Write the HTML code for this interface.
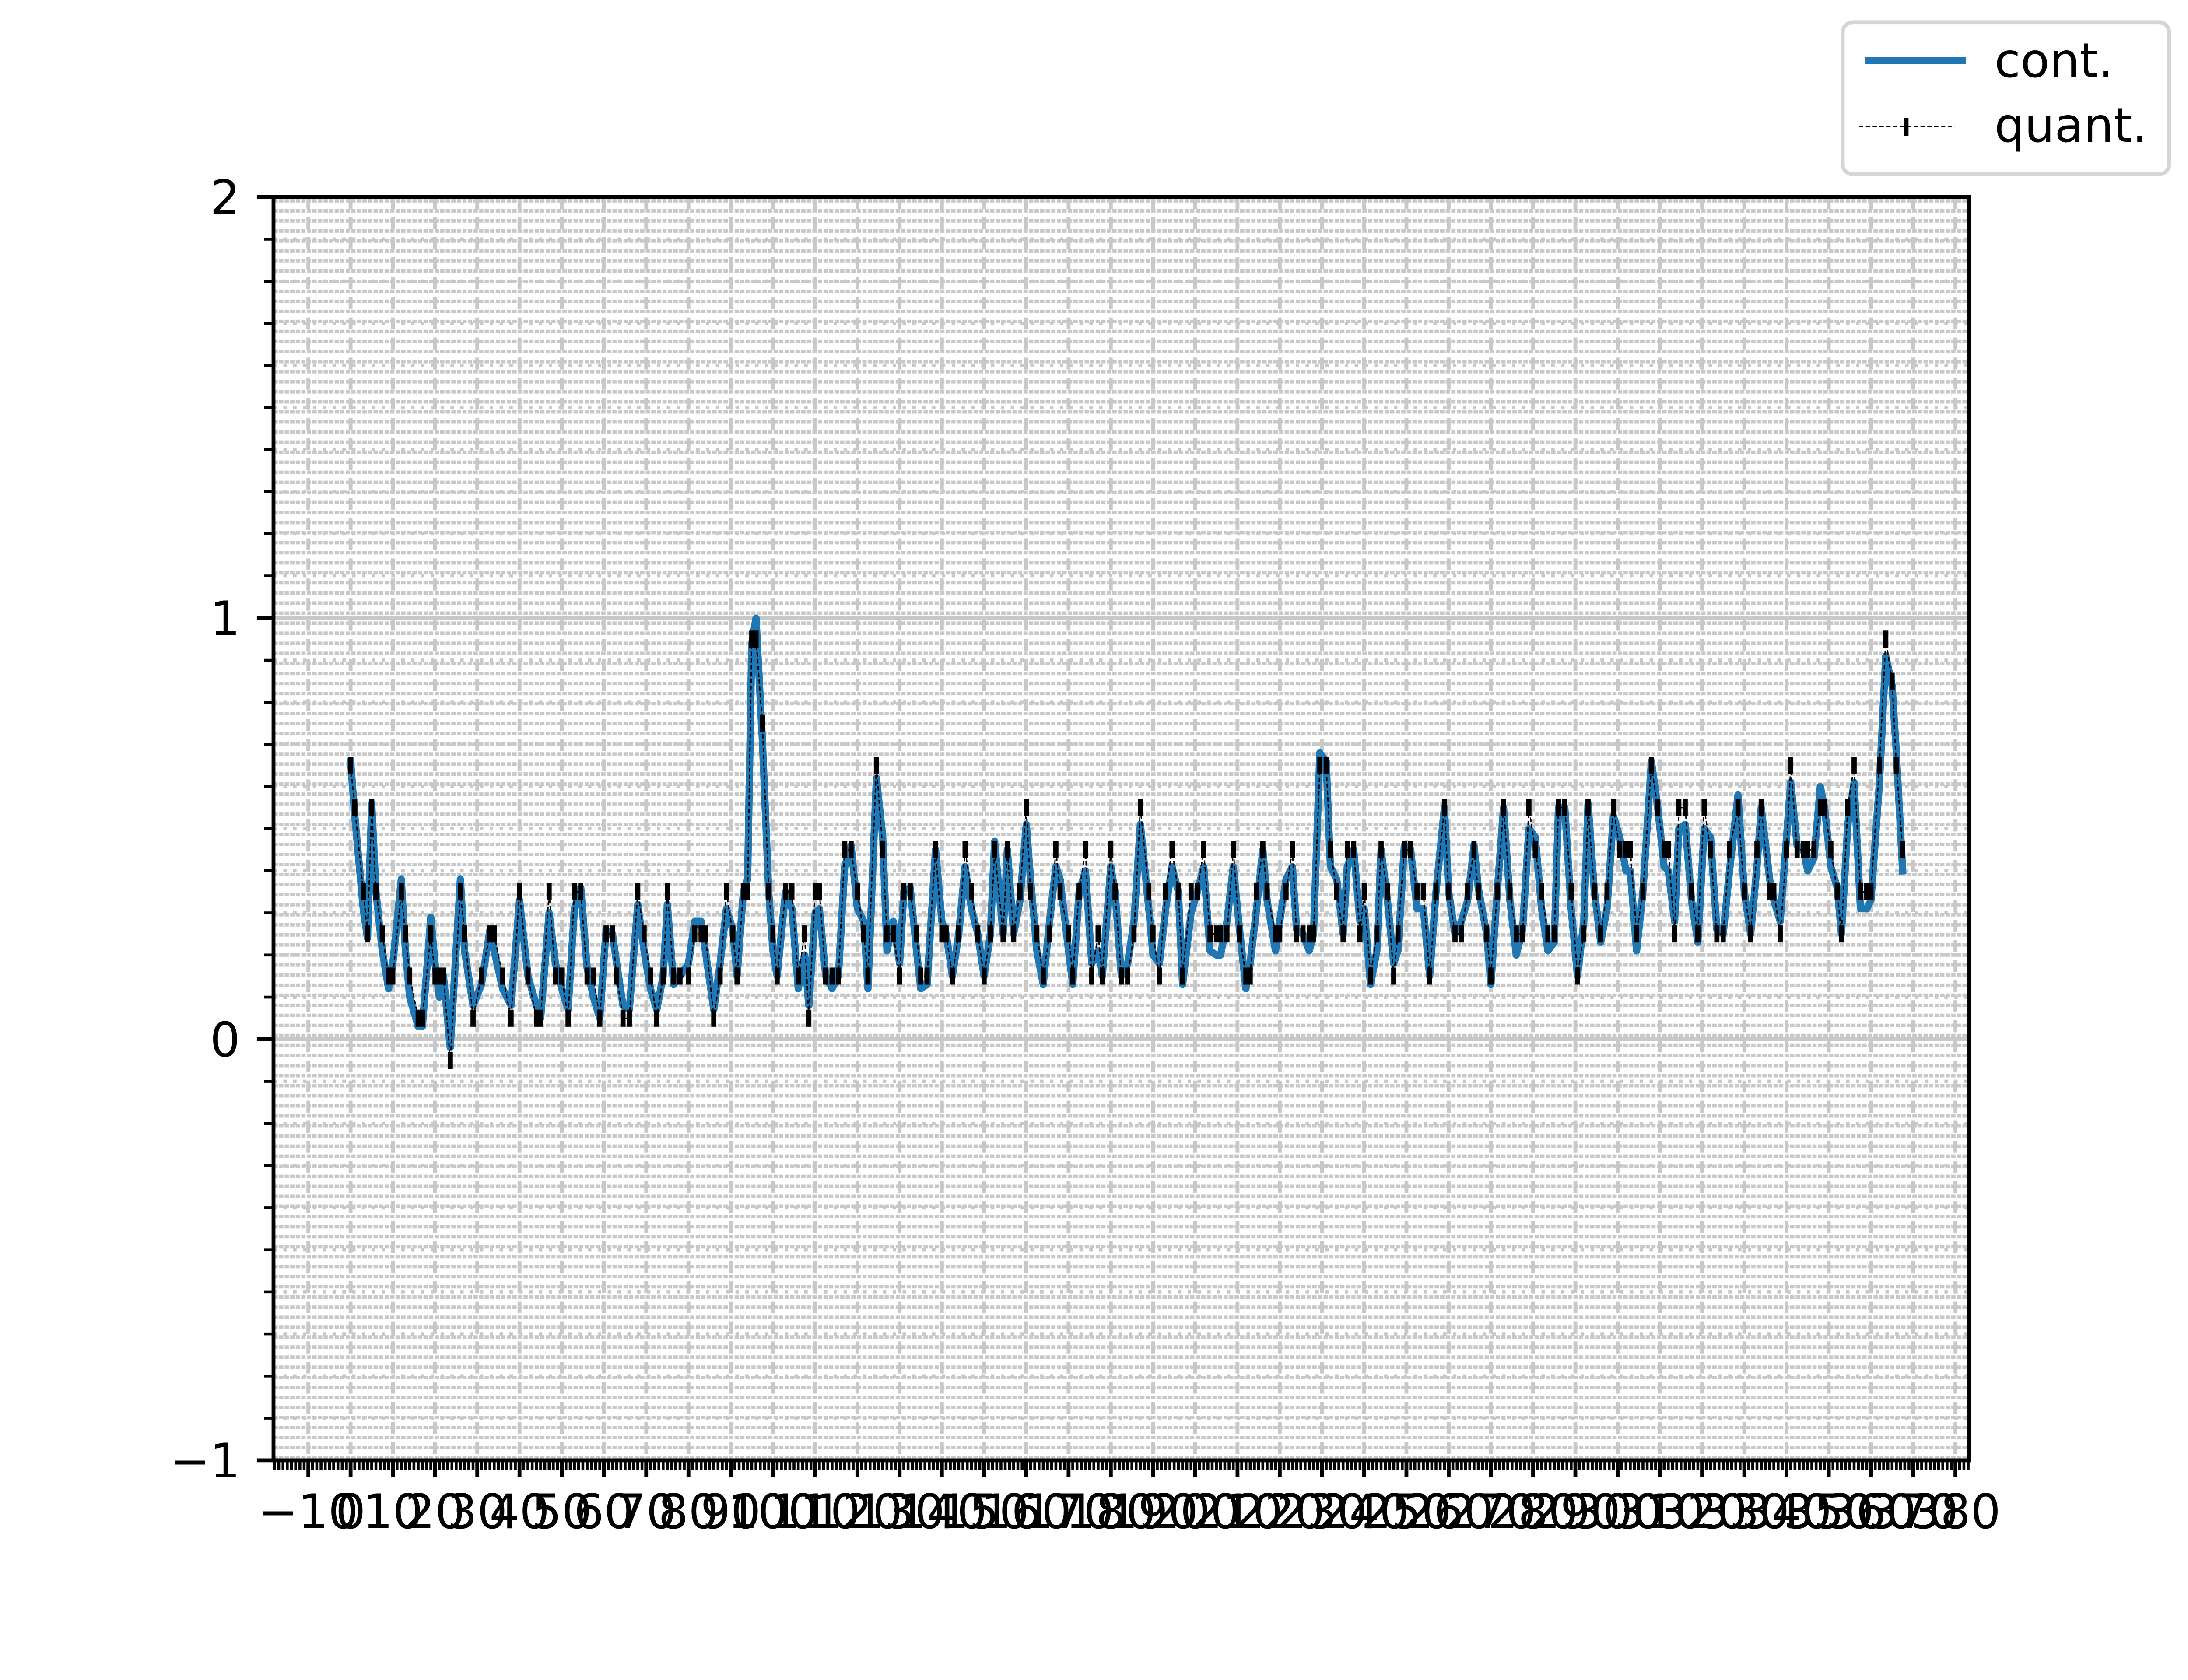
<!DOCTYPE html>
<html><head><meta charset="utf-8"><style>
html,body{margin:0;padding:0;background:#fff;overflow:hidden;}
svg{display:block;position:absolute;left:0;top:0;width:100vw;height:75vw;font-family:"DejaVu Sans","Liberation Sans",sans-serif;}
</style></head><body>
<svg id="chart" viewBox="0 0 5120 3840" preserveAspectRatio="none" xmlns="http://www.w3.org/2000/svg">
<rect x="0" y="0" width="5120" height="3840" fill="#fff"/>
<g id="grid"></g>
<g id="series"></g>
<g id="axes"></g>
<g id="legend">
  <rect x="4312" y="52" width="764" height="356" rx="24" ry="24" fill="#fff" stroke="#d5d5d5" stroke-width="9"/>
  <line x1="4365" y1="142" x2="4600" y2="142" stroke="#1f77b4" stroke-width="17"/>
  <text x="4667" y="180" font-size="111" fill="#000">cont.</text>
  <line x1="4350" y1="296" x2="4575" y2="296" stroke="#000" stroke-width="3" stroke-dasharray="10 6"/>
  <rect x="4455" y="276" width="11" height="42" fill="#000"/>
  <text x="4667" y="332" font-size="111" fill="#000">quant.</text>
</g>
</svg>
<script>
const xVals = [0,1,3,4,5,6,7.5,9,10,12,13,14,16,17,19,20,21,22,23.6,26,27,29,31,33,34,36,38,40,42,44,45,47,48.5,50,51.5,53,54.5,56,57.5,59,60.5,62,63,64.5,66,68,69.5,71,72.5,74,75,76.5,78,80,81.5,83,84,86,87.5,89,90.5,91.5,93,94,95,96,97.5,99,100,101,103,104.5,106,107.5,108.5,110,111,112.5,114,115.5,117,118.5,120,121.5,122.5,124.5,126,127,128.5,130,131,132.5,134,135,136.5,138.5,140,141,142.5,144,145.5,147,148.5,150,151.5,152.5,154.5,155.5,157,158.5,160,161,162.5,164,165.5,167,168,170,171,172.5,174,175.5,177,178,180,181,182.5,184,185.5,187,189,190,191.5,193,194.5,196,197,199,200.5,202,203.5,205,206,207.5,209,210.5,212,213,214.5,216,217,219,220,221.5,223,224,225.5,227,228,229.5,231,232,233.5,235,236,237.5,239,240,241.5,243,244,245.5,247,248,249.5,251,252.5,254,255.5,257,259,260,261.5,263,264.5,266,267,269,270,271.5,273,274.5,276,277.5,279,280.5,282,283.5,285,286,287.5,289,290.5,292,293,294.5,296,297.5,299,300.5,302,303,304.5,306,308,309.5,311,312,313.5,314.5,316,317.5,319,320.5,322,323.5,325,326.5,328.5,330,331.5,333,334,336,337,338.5,340,341,342.5,344,345,346.5,348,349,350.5,352,353,354.5,356,357.5,359,360,362,363.5,365,366,367.5];
const contVals = [0.66,0.53,0.31,0.24,0.56,0.35,0.21,0.12,0.18,0.38,0.21,0.10,0.03,0.03,0.29,0.18,0.10,0.15,-0.02,0.38,0.21,0.08,0.13,0.26,0.21,0.12,0.08,0.33,0.15,0.08,0.05,0.30,0.18,0.12,0.07,0.31,0.36,0.17,0.10,0.05,0.26,0.25,0.18,0.08,0.07,0.32,0.21,0.12,0.07,0.15,0.32,0.13,0.15,0.18,0.28,0.28,0.21,0.07,0.18,0.31,0.26,0.15,0.35,0.38,0.94,1.00,0.71,0.35,0.21,0.15,0.35,0.31,0.12,0.20,0.08,0.30,0.31,0.15,0.12,0.15,0.41,0.46,0.31,0.28,0.12,0.62,0.48,0.21,0.28,0.18,0.35,0.36,0.21,0.12,0.13,0.45,0.28,0.25,0.15,0.25,0.41,0.31,0.25,0.15,0.25,0.47,0.25,0.45,0.25,0.33,0.51,0.38,0.21,0.13,0.28,0.41,0.38,0.21,0.13,0.35,0.40,0.18,0.21,0.15,0.41,0.35,0.15,0.18,0.28,0.51,0.31,0.20,0.18,0.31,0.41,0.35,0.13,0.30,0.35,0.41,0.21,0.20,0.20,0.28,0.41,0.26,0.12,0.18,0.31,0.45,0.33,0.21,0.28,0.38,0.41,0.26,0.25,0.21,0.25,0.68,0.66,0.41,0.38,0.25,0.41,0.45,0.28,0.31,0.13,0.21,0.45,0.33,0.18,0.21,0.46,0.45,0.31,0.31,0.15,0.35,0.55,0.35,0.25,0.28,0.33,0.46,0.36,0.25,0.13,0.35,0.55,0.33,0.20,0.26,0.50,0.48,0.31,0.21,0.23,0.55,0.55,0.31,0.15,0.28,0.56,0.35,0.23,0.31,0.53,0.48,0.40,0.40,0.21,0.35,0.66,0.55,0.41,0.40,0.28,0.50,0.51,0.33,0.23,0.50,0.48,0.26,0.25,0.40,0.58,0.35,0.25,0.41,0.55,0.38,0.33,0.28,0.48,0.61,0.46,0.45,0.40,0.43,0.60,0.55,0.41,0.36,0.25,0.51,0.61,0.31,0.31,0.33,0.61,0.91,0.84,0.68,0.40];
const quantStep = [0.1];
const quantOffset = [0.05];
const xTickLabels = [-10,0,10,20,30,40,50,60,70,80,90,100,110,120,130,140,150,160,170,180,190,200,210,220,230,240,250,260,270,280,290,300,310,320,330,340,350,360,370,380];
const yTickLabels = [-1,0,1,2];

const NS = "http://www.w3.org/2000/svg";
const L = 640, R = 4608, T = 461, B = 3418;
const XMIN = -18.25, XMAX = 383.25, YMIN = -1, YMAX = 2;
function sx(v){ return L + (v - XMIN) * (R - L) / (XMAX - XMIN); }
function sy(v){ return B - (v - YMIN) * (B - T) / (YMAX - YMIN); }
function mk(tag, attrs, parent){
  const e = document.createElementNS(NS, tag);
  for (const k in attrs) e.setAttribute(k, attrs[k]);
  parent.appendChild(e);
  return e;
}
const grid = document.getElementById('grid');
const series = document.getElementById('series');
const axes = document.getElementById('axes');
const fmt = v => (v < 0 ? '\u2212' + Math.abs(v) : String(v));

for (let y = 2447 - 84 * 23.536; y < B; y += 23.536) {
  if (y <= T + 2) continue;
  const ln = mk('line', {x1: L, x2: R, y1: y.toFixed(1), y2: y.toFixed(1), stroke: '#c8c8c8', 'stroke-width': 8, 'stroke-dasharray': '10 3'}, grid);
  
  
}
for (let v = -0.9; v < 2; v += 0.1) {
  const y = sy(v);
  const ln = mk('line', {x1: L, x2: R, y1: y.toFixed(1), y2: y.toFixed(1), stroke: '#c8c8c8', 'stroke-width': 8, 'stroke-dasharray': '8 15'}, grid);
  
  
}
yTickLabels.forEach(v => {
  const y = sy(v);
  const ln = mk('line', {x1: L, x2: R, y1: y, y2: y, stroke: '#c8c8c8', 'stroke-width': 9}, grid);
  
  
});
xTickLabels.forEach(v => {
  const x = sx(v);
  const ln = mk('line', {x1: x, x2: x, y1: T, y2: B, stroke: '#c8c8c8', 'stroke-width': 9, 'stroke-dasharray': '28 19'}, grid);
  
  
});

let d = '';
xVals.forEach((xv, i) => { d += (i ? 'L' : 'M') + sx(xv).toFixed(1) + ' ' + sy(contVals[i]).toFixed(1); });
const cont = mk('path', {d: d, fill: 'none', stroke: '#1f77b4', 'stroke-width': 17, 'stroke-linejoin': 'round', 'stroke-linecap': 'square'}, series);



const quantVals = contVals.map(v => quantOffset[0] + quantStep[0] * Math.round((v - quantOffset[0]) / quantStep[0]));
let dq = '';
xVals.forEach((xv, i) => { dq += (i ? 'L' : 'M') + sx(xv).toFixed(1) + ' ' + sy(quantVals[i]).toFixed(1); });
const ql = mk('path', {d: dq, fill: 'none', stroke: '#000', 'stroke-width': 3, 'stroke-dasharray': '10 6'}, series);


xVals.forEach((xv, i) => {
  const m = mk('rect', {x: (sx(xv) - 6).toFixed(1), y: (sy(quantVals[i]) - 20).toFixed(1), width: 12, height: 40, fill: '#000'}, series);
  
  
});

const frame = mk('rect', {x: L, y: T, width: R - L, height: B - T, fill: 'none', stroke: '#000', 'stroke-width': 9}, axes);



for (let v = -18; v <= 383; v++) {
  const x = sx(v);
  const t = mk('line', {x1: x, x2: x, y1: B, y2: B + 22, stroke: '#000', 'stroke-width': 6.7}, axes);
  
  
}
xTickLabels.forEach(v => {
  const x = sx(v);
  const t = mk('line', {x1: x, x2: x, y1: B, y2: B + 39, stroke: '#000', 'stroke-width': 9}, axes);
  
  
  const tx = mk('text', {x: x, y: 3577, 'font-size': 111, 'text-anchor': 'middle', fill: '#000'}, axes);
  tx.textContent = fmt(v);
  
  
});
for (let k = -9; k <= 19; k++) {
  if (k % 10 === 0) continue;
  const y = sy(k / 10);
  const t = mk('line', {x1: L - 22, x2: L, y1: y, y2: y, stroke: '#000', 'stroke-width': 6.7}, axes);
  
  
}
yTickLabels.forEach(v => {
  const y = sy(v);
  const t = mk('line', {x1: L - 39, x2: L, y1: y, y2: y, stroke: '#000', 'stroke-width': 9}, axes);
  
  
  const tx = mk('text', {x: 562, y: y + 40, 'font-size': 111, 'text-anchor': 'end', fill: '#000'}, axes);
  tx.textContent = fmt(v);
  
  
});
</script>
</body></html>
